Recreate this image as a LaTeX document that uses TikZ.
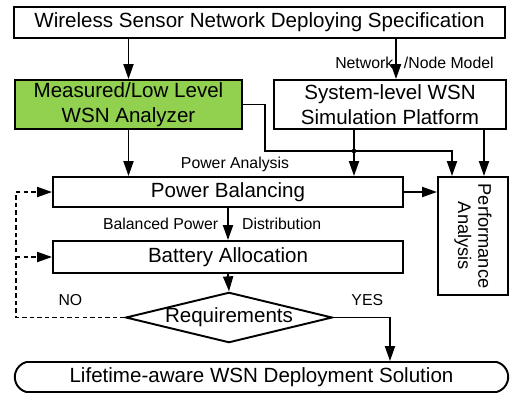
\documentclass[tikz,border=0pt]{standalone}
\usepackage{fontspec}
\setmainfont{Liberation Sans}
\usetikzlibrary{arrows.meta,shapes.geometric,shapes.misc}
\definecolor{analyzergreen}{HTML}{92D050}
\tikzset{
  box/.style={draw, line width=1.1pt, inner sep=1pt, align=center,
    font=\fontsize{11.7}{14.2}\selectfont},
  lbl/.style={font=\fontsize{9}{10}\selectfont, inner sep=1pt},
  arr/.style={-{Triangle[length=3mm,width=2mm]}, line width=1.1pt},
  dasharr/.style={arr, dash pattern=on 2.5pt off 1.8pt},
}
\begin{document}
\begin{tikzpicture}[x=0.02cm, y=-0.02cm]
    \useasboundingbox (0,0) rectangle (517,393);

    % boxes
    \node[box, minimum width=9.82cm, minimum height=0.62cm] (spec) at (259.5,22.5) {Wireless Sensor Network Deploying Specification};
    \node[box, fill=analyzergreen, minimum width=4.54cm, minimum height=0.98cm] (meas) at (128.5,104.5) {Measured/Low Level\\WSN Analyzer};
    \node[box, minimum width=4.64cm, minimum height=0.98cm] (sim) at (390,104.5) {System-level WSN\\Simulation Platform};
    \node[box, minimum width=7cm, minimum height=0.6cm] (bal) at (228,192) {Power Balancing};
    \node[box, minimum width=1.4cm, minimum height=2.36cm] (perf) at (473,236) {};
    \node[rotate=-90, align=center, font=\fontsize{10.4}{11.5}\selectfont] (perftxt) at (perf.center) {Performance\\Analysis};
    \node[box, minimum width=7cm, minimum height=0.64cm] (batt) at (228,257) {Battery Allocation};
    \node[box, diamond, aspect=4.1, inner sep=0pt] (req) at (229,317.5) {Requirements};
    \node[box, rounded rectangle, rounded rectangle arc length=150, minimum width=9.94cm, minimum height=0.6cm] (sol) at (261.5,377) {Lifetime-aware WSN Deployment Solution};

    \coordinate (pwr) at (265,151);
    \node[lbl] (pwrlbl) at (235,164) {Power Analysis};

    % connectors
    \draw[arr] (meas.north |- spec.south) -- (meas.north);
    \draw[arr] ([xshift=0.12cm]sim.north |- spec.south) -- node[lbl, pos=0.6, left] {Network} node[lbl, pos=0.6, right=3pt] {/Node Model} ([xshift=0.12cm]sim.north);
    \draw[arr] (meas.south) -- (meas.south |- bal.north);
    \draw[arr] (meas.east) -| (pwr) -| ([xshift=-0.42cm]perf.north);
    \draw[arr] ([xshift=-0.72cm]sim.south) -- ([xshift=-0.72cm]sim.south |- bal.north);
    \fill ([xshift=-0.72cm]sim.south |- pwr) circle (1.3pt);
    \draw[arr] ([xshift=0.22cm]perf.north |- sim.south) -- ([xshift=0.22cm]perf.north);
    \draw[arr] (bal.east) -- (bal.east -| perf.west);
    \draw[arr] (bal.south) -- node[lbl, left=4pt] {Balanced Power} node[lbl, right=6.5pt] {Distribution} (batt.north);
    \draw[arr] (batt.south) -- (req.north);
    \draw[arr] (req.east) -| node[lbl, pos=0.3, above=5pt] {YES} ([xshift=2.57cm]sol.north);
    \draw[dasharr] (req.west) -| node[lbl, pos=0.25, above=5pt] {NO} ([xshift=-0.72cm]bal.west) -- (bal.west);
    \draw[dasharr] ([xshift=-0.72cm]batt.west) -- (batt.west);
\end{tikzpicture}
\end{document}
